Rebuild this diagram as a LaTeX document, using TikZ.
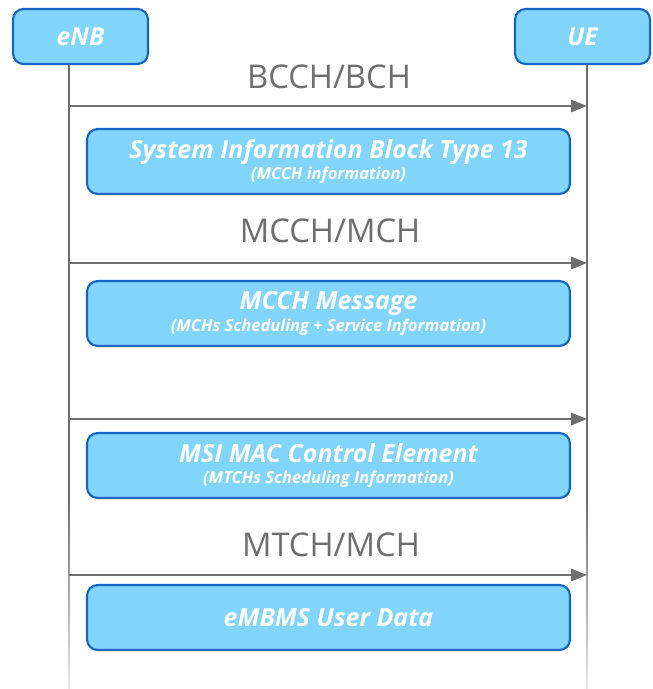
\documentclass[tikz,border=0pt]{standalone}
\usepackage{fontspec}
\setmainfont{Open Sans}
\usetikzlibrary{arrows.meta}
\definecolor{boxfill}{HTML}{81D4FA}
\definecolor{boxline}{HTML}{1565C0}
\definecolor{lifegray}{HTML}{6E6E6E}
\newcommand{\subtxt}[1]{{\fontsize{9.4}{11}\selectfont #1}}
\tikzset{
  actor/.style = {draw=boxline, fill=boxfill, line width=1.2pt, rounded corners=6pt, minimum width=2.7cm, minimum height=1.1cm, text=white, font=\bfseries\itshape\fontsize{14}{15}\selectfont},
  msgbox/.style = {draw=boxline, fill=boxfill, line width=1.2pt, rounded corners=6pt, minimum width=9.66cm, minimum height=1.3cm, text=white, align=center, font=\bfseries\itshape\fontsize{14.2}{15}\selectfont},
  life/.style = {draw=lifegray, line width=1.1pt},
  msg/.style = {draw=lifegray, line width=1.1pt, -{Triangle[length=9pt,width=7pt]}},
  chan/.style = {text=lifegray, font=\fontsize{18.6}{20}\selectfont}
}
\begin{document}
\begin{tikzpicture}[x=0.02cm, y=-0.02cm]
\useasboundingbox (0,0) rectangle (652,689);
\coordinate (enbfade) at (69,500);
\coordinate (enbend) at (69,689);
\coordinate (uefade) at (587,500);
\coordinate (ueend) at (587,689);
\draw[life] (enbfade |- 0,64) -- (enbfade);
\draw[life] (uefade |- 0,64) -- (uefade);
\shade[top color=lifegray, bottom color=lifegray!15] ([xshift=-0.55pt]enbfade) rectangle ([xshift=0.55pt]enbend);
\shade[top color=lifegray, bottom color=lifegray!15] ([xshift=-0.55pt]uefade) rectangle ([xshift=0.55pt]ueend);
\node[actor] (enb) at (80.5,36.5) {eNB};
\node[actor] (ue) at (582.5,36.5) {UE};
\coordinate (s1) at (69,106);
\coordinate (r1) at (587,106);
\coordinate (s2) at (69,263);
\coordinate (r2) at (587,263);
\coordinate (s3) at (69,419);
\coordinate (r3) at (587,419);
\coordinate (s4) at (69,575);
\coordinate (r4) at (587,575);
\draw[msg] (s1) -- (r1);
\draw[msg] (s2) -- (r2);
\draw[msg] (s3) -- (r3);
\draw[msg] (s4) -- (r4);
\node[chan] (bcch) at (329,77) {BCCH/BCH};
\node[chan] (mcch) at (330,231) {MCCH/MCH};
\node[chan] (mtch) at (331,545) {MTCH/MCH};
\node[msgbox] (sib) at (328.5,161.5) {System Information Block Type 13\\[-2.6pt]\subtxt{(MCCH information)}};
\node[msgbox] (mcchmsg) at (328.5,313.5) {MCCH Message\\[-2.6pt]\subtxt{(MCHs Scheduling + Service Information)}};
\node[msgbox] (msi) at (328.5,465.5) {MSI MAC Control Element\\[-2.6pt]\subtxt{(MTCHs Scheduling Information)}};
\node[msgbox] (data) at (328.5,617.5) {eMBMS User Data};
\end{tikzpicture}
\end{document}
